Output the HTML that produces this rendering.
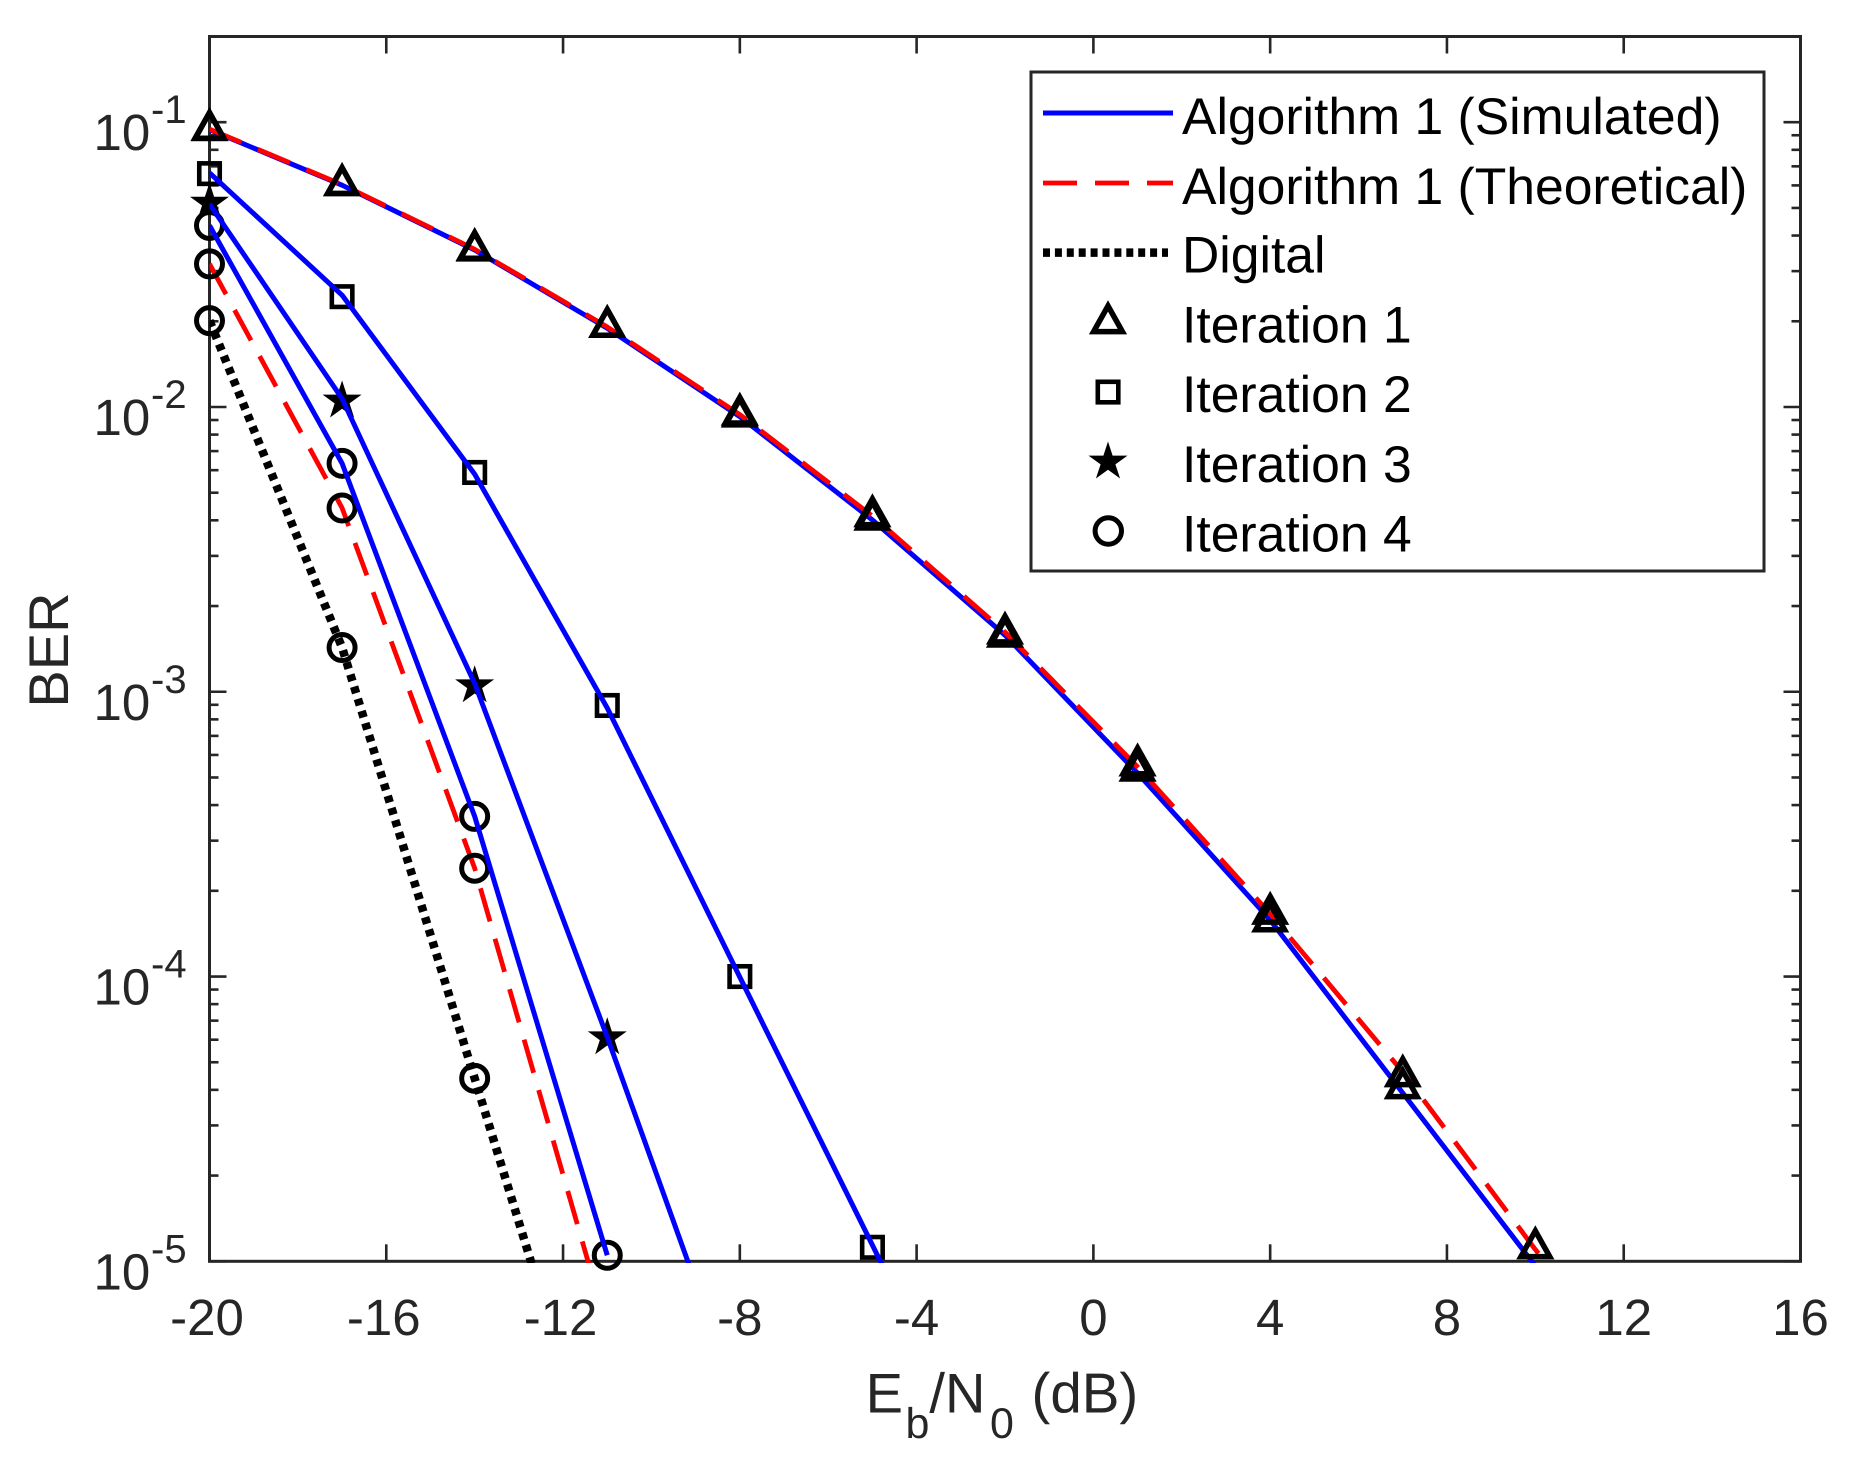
<!DOCTYPE html>
<html lang="en">
<head>
<meta charset="utf-8">
<title>BER vs Eb/N0</title>
<style>
html,body{margin:0;padding:0;background:#fff;}
svg{display:block;font-family:"Liberation Sans",Arial,sans-serif;text-rendering:geometricPrecision;}
</style>
</head>
<body>
<svg id="chart" xmlns="http://www.w3.org/2000/svg" width="1850" height="1459" viewBox="0 0 1850 1459">
  <rect x="0" y="0" width="1850" height="1459" fill="#fff"/>
  <defs>
    <clipPath id="plot-clip"><rect x="209.5" y="36.5" width="1591" height="1226.5"/></clipPath>
  </defs>
  <g id="axes-layer"></g>
  <g id="lower-layer"></g>
  <g id="upper-layer"></g>

  <text transform="translate(68,650) rotate(-90)" text-anchor="middle" font-size="56" fill="#262626">BER</text>
  <text fill="#262626" font-size="56"><tspan x="865.6" y="1412.7">E</tspan><tspan x="905.5" y="1438" font-size="43">b</tspan><tspan x="929.4" y="1412.7">/N</tspan><tspan x="990" y="1438" font-size="43">0</tspan><tspan x="1031.5" y="1412.7" font-size="56.5">(dB)</tspan></text>

  <g>
    <rect x="1031" y="72" width="733" height="499" fill="#fff" stroke="#262626" stroke-width="3"/>
    <line x1="1043" y1="113" x2="1173" y2="113" stroke="#0000ff" stroke-width="5"/>
    <line x1="1043" y1="183" x2="1173" y2="183" stroke="#ff0000" stroke-width="4.8" stroke-dasharray="34 18"/>
    <line x1="1043" y1="252.6" x2="1168" y2="252.6" stroke="#000" stroke-width="8.5" stroke-dasharray="7 4.9"/>
    <polygon points="1108,305.9 1122.4,331.65 1093.6,331.65" fill="none" stroke="#000" stroke-width="5.5"/>
    <rect x="1097.8" y="381.8" width="20.5" height="20.5" fill="none" stroke="#000" stroke-width="4.6"/>
    <polygon points="1108,441.5 1112.6,455.6 1127.5,455.6 1115.4,464.4 1120.1,478.5 1108,469.8 1095.9,478.5 1100.6,464.4 1088.5,455.6 1103.4,455.6" fill="#000"/>
    <circle cx="1108.3" cy="531" r="13.2" fill="none" stroke="#000" stroke-width="5"/>
    <text x="1182" y="134" font-size="51.65" fill="#000">Algorithm 1 (Simulated)</text>
    <text x="1182" y="204" font-size="51.65" fill="#000">Algorithm 1 (Theoretical)</text>
    <text x="1182" y="272.5" font-size="51.65" fill="#000">Digital</text>
    <text x="1182" y="342.5" font-size="51.65" fill="#000">Iteration 1</text>
    <text x="1182" y="412" font-size="51.65" fill="#000">Iteration 2</text>
    <text x="1182" y="482" font-size="51.65" fill="#000">Iteration 3</text>
    <text x="1182" y="551.5" font-size="51.65" fill="#000">Iteration 4</text>
  </g>
</svg>
<script>
var xTickValues = [-20,-16,-12,-8,-4,0,4,8,12,16];
var yDecades = [-1,-2,-3,-4,-5];
var yMinorFactors = [2,3,4,5,6,7,8,9];

var ebn0 = [-20,-17,-14,-11,-8,-5,-2,1,4,7,10];

var iter1SimLine = [0.0942,0.0601,0.0356,0.0189,0.00925,0.00401,0.00158,5.18e-4,1.58e-4,3.90e-5,9.63e-6];
var iter1TheoLineX = [-20,-17,-14,-11,-8,-5,-2,1,4,7,10,11];
var iter1TheoLine = [0.0946,0.0604,0.0358,0.0191,0.0094,0.00414,0.00162,5.45e-4,1.66e-4,4.62e-5,1.10e-5,7.0e-6];
var iter1TheoMarkers = [0.0938,0.0601,0.0356,0.0191,0.00939,0.00413,0.0016,5.51e-4,1.66e-4,4.46e-5,1.11e-5];
var iter1SimMarkers = [0.0938,0.0601,0.0354,0.0191,0.00925,0.00402,0.00156,5.28e-4,1.56e-4,4.05e-5];

var iter2LineX = [-20,-17,-14,-11,-8,-5,-4];
var iter2Line = [0.0664,0.0247,0.00581,8.77e-4,9.95e-5,1.14e-5,5.51e-6];
var iter2Markers = [0.066,0.0244,0.00589,8.95e-4,1.00e-4,1.12e-5];

var iter3LineX = [-20,-17,-14,-11,-8];
var iter3Line = [0.0516,0.0107,0.00107,6.13e-5,3.10e-6];
var iter3Markers = [0.052,0.0105,0.00105,6.10e-5];

var iter4SimLine = [0.0434,0.00634,3.65e-4,1.05e-5];
var iter4TheoLineX = [-20,-17,-14,-11];
var iter4TheoLine = [0.0318,0.00442,2.40e-4,5.83e-6];
var iter4TheoMarkers = [0.0318,0.00442,2.40e-4];

var digitalLineX = [-20,-17,-14,-11];
var digitalLine = [0.0201,0.00143,4.39e-5,1.34e-6];
var digitalMarkers = [0.0201,0.00143,4.39e-5];

var SVGNS = 'http://www.w3.org/2000/svg';
var PLOT = {left:209.5,right:1800.5,top:36.5,bottom:1261.3,xMin:-20,xMax:16,yMinLog:-5,yMaxLog:Math.log10(0.2)};
function sx(v){return PLOT.left+(v-PLOT.xMin)/(PLOT.xMax-PLOT.xMin)*(PLOT.right-PLOT.left);}
function sy(v){return PLOT.bottom-(Math.log10(v)-PLOT.yMinLog)/(PLOT.yMaxLog-PLOT.yMinLog)*(PLOT.bottom-PLOT.top);}
function make(tag,attrs,parent){
  var el=document.createElementNS(SVGNS,tag);
  for(var k in attrs){el.setAttribute(k,attrs[k]);}
  parent.appendChild(el);
  return el;
}
var axesLayer=document.getElementById('axes-layer');
var lowerLayer=document.getElementById('lower-layer');
var upperLayer=document.getElementById('upper-layer');
var AXIS='#262626';

function tick(x1,y1,x2,y2,w,name){
  var t=make('line',{x1:x1,y1:y1,x2:x2,y2:y2,stroke:AXIS,'stroke-width':w},axesLayer);
  
  
}
function drawAxes(){
  xTickValues.forEach(function(v){
    var x=sx(v);
    tick(x,PLOT.bottom,x,PLOT.bottom-17,2.6,'x-tick-bottom');
    tick(x,PLOT.top,x,PLOT.top+17,2.6,'x-tick-top');
    var labelX=v<=-10?x-2.5:x;
    var lab=make('text',{x:labelX,y:1335,'text-anchor':'middle','font-size':51,fill:AXIS},axesLayer);
    
    
    lab.textContent=String(v);
  });
  yDecades.forEach(function(d){
    var y=sy(Math.pow(10,d));
    tick(PLOT.left,y,PLOT.left+17,y,2.6,'y-tick-left');
    tick(PLOT.right,y,PLOT.right-17,y,2.6,'y-tick-right');
    var lab=make('text',{x:93.5,y:y+28,'font-size':51,fill:AXIS},axesLayer);
    
    
    lab.textContent='10';
    var sup=make('text',{x:151,y:y+1,'font-size':40,fill:AXIS},axesLayer);
    
    
    sup.textContent=String(d);
    yMinorFactors.forEach(function(f){
      var val=f*Math.pow(10,d);
      if(val>=0.2-1e-9){return;}
      var ym=sy(val);
      tick(PLOT.left,ym,PLOT.left+9,ym,2.6,'y-minor-tick-left');
      tick(PLOT.right,ym,PLOT.right-9,ym,2.6,'y-minor-tick-right');
    });
  });
  var frame=make('rect',{x:PLOT.left,y:PLOT.top,width:PLOT.right-PLOT.left,height:PLOT.bottom-PLOT.top,fill:'none',stroke:AXIS,'stroke-width':3},axesLayer);
  
  
}
function drawLine(layer,xs,ys,stroke,width,dash,name){
  var pts=ys.map(function(v,i){return sx(xs[i]).toFixed(2)+','+sy(v).toFixed(2);}).join(' ');
  var attrs={points:pts,fill:'none',stroke:stroke,'stroke-width':width,'stroke-linejoin':'round','clip-path':'url(#plot-clip)'};
  if(dash){attrs['stroke-dasharray']=dash;}
  var p=make('polyline',attrs,layer);
  
  
}
function polyPts(cx,cy,arr){
  return arr.map(function(p){return (cx+p[0]).toFixed(2)+','+(cy+p[1]).toFixed(2);}).join(' ');
}
function starOutline(R){
  var out=[];
  for(var i=0;i<10;i++){
    var r=i%2?R*0.382:R;
    var a=-Math.PI/2+i*Math.PI/5;
    out.push([r*Math.cos(a),r*Math.sin(a)]);
  }
  return out;
}
function triangle(layer,x,v,name){
  var el=make('polygon',{points:polyPts(sx(x),sy(v),[[0,-17.5],[14.4,8.25],[-14.4,8.25]]),fill:'none',stroke:'#000','stroke-width':5.5},layer);
  
  
}
function square(layer,x,v,name){
  var el=make('rect',{x:sx(x)-10.25,y:sy(v)-10.25,width:20.5,height:20.5,fill:'none',stroke:'#000','stroke-width':4.6},layer);
  
  
}
function star(layer,x,v,name){
  var el=make('polygon',{points:polyPts(sx(x),sy(v),starOutline(20.5)),fill:'#000'},layer);
  
  
}
function circle(layer,x,v,name){
  var el=make('circle',{cx:sx(x),cy:sy(v),r:13,fill:'none',stroke:'#000','stroke-width':5},layer);
  
  
}
drawAxes();

/* lower layer: digital + iteration 4 theory, then circle / square / star markers, then blue lines */
drawLine(lowerLayer,digitalLineX,digitalLine,'#000',8.5,'6.7 6','digital-line');
drawLine(lowerLayer,iter4TheoLineX,iter4TheoLine,'#ff0000',4.8,'34.5 18','iteration-4-theoretical-line');
digitalMarkers.forEach(function(v,i){circle(lowerLayer,ebn0[i],v,'digital-iteration-4-marker');});
iter4TheoMarkers.forEach(function(v,i){circle(lowerLayer,ebn0[i],v,'iteration-4-theoretical-marker');});
iter4SimLine.forEach(function(v,i){circle(lowerLayer,ebn0[i],v,'iteration-4-simulated-marker');});
iter2Markers.forEach(function(v,i){square(lowerLayer,ebn0[i],v,'iteration-2-marker');});
iter3Markers.forEach(function(v,i){star(lowerLayer,ebn0[i],v,'iteration-3-marker');});
drawLine(lowerLayer,ebn0,iter4SimLine,'#0000ff',5,null,'iteration-4-simulated-line');
drawLine(lowerLayer,iter3LineX,iter3Line,'#0000ff',5,null,'iteration-3-simulated-line');
drawLine(lowerLayer,iter2LineX,iter2Line,'#0000ff',5,null,'iteration-2-simulated-line');

/* upper layer: iteration 1 */
drawLine(upperLayer,ebn0,iter1SimLine,'#0000ff',5,null,'iteration-1-simulated-line');
drawLine(upperLayer,iter1TheoLineX,iter1TheoLine,'#ff0000',4.8,'34.5 18','iteration-1-theoretical-line');
iter1SimMarkers.forEach(function(v,i){triangle(upperLayer,ebn0[i],v,'iteration-1-simulated-marker');});
iter1TheoMarkers.forEach(function(v,i){triangle(upperLayer,ebn0[i],v,'iteration-1-theoretical-marker');});
</script>
</body>
</html>
